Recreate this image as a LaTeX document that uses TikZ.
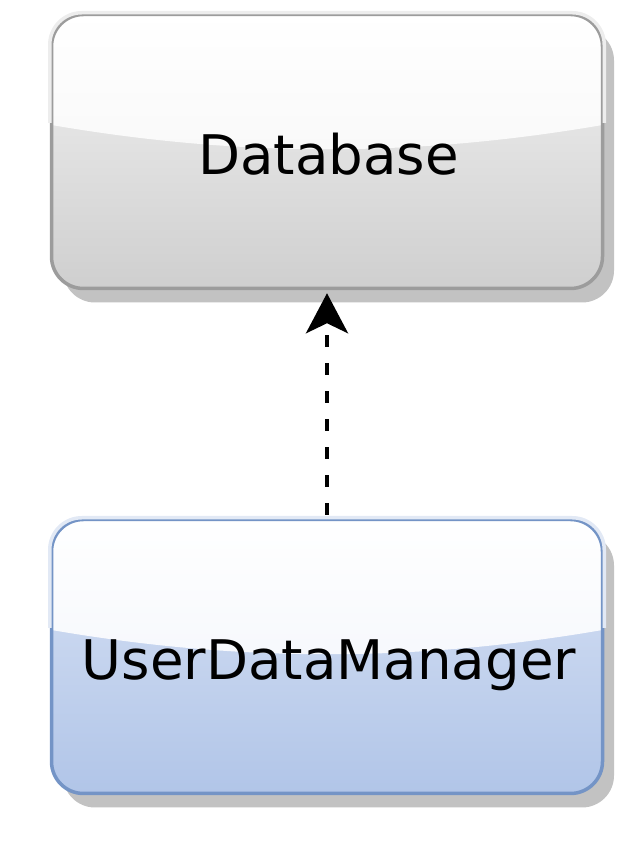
\documentclass[tikz,border=0pt]{standalone}
\usepackage{fontspec}
\setmainfont{DejaVu Sans}
\usetikzlibrary{arrows.meta,shadows}
\definecolor{shadowgray}{HTML}{C2C2C2}
\definecolor{dbtop}{HTML}{F2F2F2}
\definecolor{dbbot}{HTML}{CFCFCF}
\definecolor{dbglossbot}{HTML}{F3F3F3}
\definecolor{dbline}{HTML}{9C9C9C}
\definecolor{dblinelight}{HTML}{EDEDED}
\definecolor{udtop}{HTML}{D8E2F4}
\definecolor{udbot}{HTML}{B1C5E8}
\definecolor{udglossbot}{HTML}{EEF2FA}
\definecolor{udline}{HTML}{7494C6}
\definecolor{udlinelight}{HTML}{E2E9F5}
\tikzset{
  x=1pt, y=1pt,
  glossbox/.style n args={4}{
    rounded corners=32pt, minimum width=551pt, minimum height=274pt,
    line width=3.5pt, draw=#3, top color=#1, bottom color=#2,
    drop shadow={shadow xshift=11.5pt, shadow yshift=-14pt, fill=shadowgray, opacity=1},
    font=\fontsize{54.6}{60}\selectfont, text height=46pt, text depth=0pt,
    inner sep=0pt,
    path picture={
      \shade[sharp corners, top color=white, bottom color=#4]
        ([xshift=-3pt,yshift=3pt]path picture bounding box.north west)
        -- ([xshift=3pt,yshift=3pt]path picture bounding box.north east)
        -- ([xshift=3pt,yshift=-110pt]path picture bounding box.north east)
        .. controls +(-190pt,-33pt) and +(190pt,-33pt) ..
        ([xshift=-3pt,yshift=-110pt]path picture bounding box.north west) -- cycle;
    }
  },
  dbbox/.style={glossbox={dbtop}{dbbot}{dbline}{dbglossbot}},
  udbox/.style={glossbox={udtop}{udbot}{udline}{udglossbot}},
  dep/.style={line width=4pt, dash pattern=on 12pt off 16pt,
    -{Stealth[length=40pt,width=42pt,inset=10pt]}}
}
\begin{document}
\begin{tikzpicture}
\useasboundingbox (0,0) rectangle (644,842);
\node[dbbox] (db) at (327,690.5) {\hspace*{3pt}Database};
\node[udbox] (ud) at (327,185.5) {\hspace*{4pt}UserDataManager};
% light upper borders (gloss)
\foreach \n/\c in {db/dblinelight, ud/udlinelight}{
  \begin{scope}
    \clip ([xshift=-5pt,yshift=5pt]\n.north west) -- ([xshift=5pt,yshift=5pt]\n.north east)
      -- ([xshift=5pt,yshift=-110pt]\n.north east) -- ([xshift=-5pt,yshift=-110pt]\n.north west) -- cycle;
    \draw[\c, line width=3.5pt, rounded corners=32pt] (\n.north west) rectangle (\n.south east);
  \end{scope}
}
\draw[dep] ([yshift=3pt]ud.north) -- ([yshift=-3pt]db.south);
\end{tikzpicture}
\end{document}
